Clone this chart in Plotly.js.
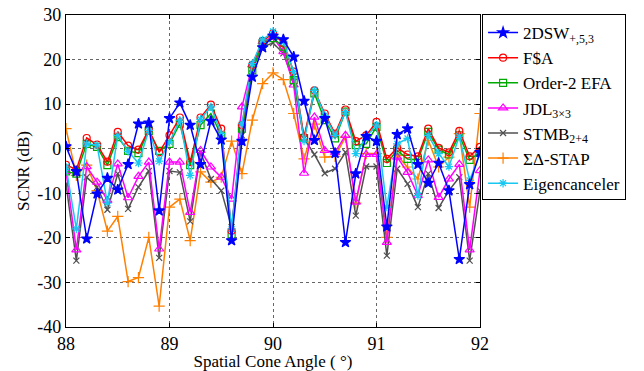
<!DOCTYPE html>
<html>
<head>
<meta charset="utf-8">
<script src="https://cdn.plot.ly/plotly-3.0.1.min.js"></script>
<style>
  html, body { margin: 0; padding: 0; background: #fff; }
  #chart { width: 644px; height: 371px; }
</style>
</head>
<body>
<div id="chart"></div>
<script>
// Spatial cone angle samples (degrees), 88 to 92 in 0.1 steps
const angles = [88.0, 88.1, 88.2, 88.3, 88.4, 88.5, 88.6, 88.7, 88.8, 88.9,
                89.0, 89.1, 89.2, 89.3, 89.4, 89.5, 89.6, 89.7, 89.8, 89.9,
                90.0, 90.1, 90.2, 90.3, 90.4, 90.5, 90.6, 90.7, 90.8, 90.9,
                91.0, 91.1, 91.2, 91.3, 91.4, 91.5, 91.6, 91.7, 91.8, 91.9, 92.0];

// SCNR (dB) for each processor
const scnr2DSW = [0.5, -5.1, -20.2, -10.1, -6.6, -9.2, -3.5, 5.6, 5.8, -13.9,
                  6.8, 10.3, 5.3, -3.5, 6.2, 2.0, -20.6, 1.7, 16.1, 22.7,
                  25.3, 24.5, 20.6, 10.7, 1.9, 6.8, -1.0, -21.0, -5.6, 2.8,
                  1.7, -17.5, 3.2, 4.5, -3.5, -7.7, -3.2, -9.4, -24.8, -8.0, -0.8];
const scnrFSA = [-3.6, -4.7, 2.4, 0.9, -2.9, 3.8, 0.7, -0.2, 4.3, -0.8,
                 3.0, 7.0, -3.0, 7.0, 9.9, 4.5, -18.4, 5.3, 18.8, 24.2,
                 25.9, 23.6, 17.3, 2.6, 13.1, 7.9, 3.4, 8.8, 1.7, 3.0,
                 6.0, -2.3, 0.2, -1.3, -1.7, 4.5, 0.2, -0.8, 4.0, -1.7, 0.4];
const scnrEFA = [-5.1, -5.6, 1.1, 0.4, -3.7, 2.6, -0.5, -1.0, 4.0, -0.5,
                 1.1, 5.6, -3.7, 5.3, 7.9, 3.0, -19.3, 4.5, 17.6, 23.6,
                 24.8, 22.9, 15.4, 2.4, 12.4, 6.4, 2.3, 8.3, 0.8, 1.1,
                 4.9, -3.2, -0.4, -2.3, -2.5, 3.8, -0.2, -1.3, 3.0, -2.5, -0.8];
const scnrJDL = [-5.1, -22.7, -4.0, -7.5, -11.6, -3.4, -11.0, -6.2, -3.0, -22.5,
                 -3.0, -3.0, -14.3, -0.4, -4.1, -6.4, -11.3, 9.4, 18.8, 24.0,
                 25.0, 21.8, 14.3, -5.5, 7.1, -0.4, -0.8, 3.0, -12.0, -1.3,
                 -1.3, -21.0, -1.9, -5.3, -10.5, -2.5, -10.9, -6.8, -3.5, -22.7, -4.9];
const scnrSTMB = [-7.9, -25.1, -6.4, -8.6, -13.7, -5.6, -13.5, -8.6, -5.0, -24.5,
                  -5.0, -5.3, -16.3, -0.8, -6.8, -9.4, -17.6, 3.0, 18.0, 22.9,
                  23.7, 21.4, 15.0, 2.3, -1.3, -5.5, -4.5, -0.8, -15.0, -4.0,
                  -4.0, -24.0, -4.5, -7.9, -13.1, -5.6, -13.3, -9.4, -6.4, -25.1, -9.4];
const scnrSigmaDelta = [4.5, -6.0, -3.7, -9.4, -18.5, -15.2, -29.8, -28.9, -19.9, -35.3,
                        -13.1, -11.3, -20.6, -5.2, -7.5, -6.4, 1.7, -5.6, 6.4, 14.6,
                        17.0, 15.5, 7.9, -2.3, 5.5, -1.9, -1.7, 2.6, -12.2, -1.1,
                        -1.1, -19.9, -1.5, -4.1, -6.8, 1.9, -4.1, -1.9, 3.4, -13.1, 7.9];
const scnrEigen = [-4.1, -18.0, 1.1, 0.8, -12.2, 3.0, -0.6, -3.2, 4.1, -2.8,
                   1.5, 6.4, -6.0, 6.6, 9.4, 3.4, -18.0, 5.6, 19.1, 24.4,
                   26.3, 24.0, 17.3, 1.7, 13.1, 7.5, 3.0, 8.3, -1.1, 2.6,
                   5.3, -13.1, 1.1, 2.3, -10.5, 3.0, -1.1, -4.0, 2.8, -7.1, -1.1];

const xTicks = [88, 89, 90, 91, 92];
const yTicks = [-40, -30, -20, -10, 0, 10, 20, 30];

const serif = "'Liberation Serif', 'Times New Roman', serif";

function series(name, y, color, symbol, rank, size) {
  return {
    type: "scatter", mode: "lines+markers", name: name,
    x: angles, y: y, legendrank: rank,
    line: { color: color, width: 1.5 },
    marker: { symbol: symbol, size: size || 7, color: color,
              line: { color: color, width: 1.2 } }
  };
}

// drawn bottom-to-top; legendrank keeps the legend order
const traces = [
  series("ΣΔ-STAP", scnrSigmaDelta, "#ff8000", "cross-thin-open", 6, 8),
  series("STMB<sub>2+4</sub>", scnrSTMB, "#505050", "x-thin-open", 5, 6),
  series("JDL<sub>3×3</sub>", scnrJDL, "#ff00ff", "triangle-up-open", 4, 8),
  series("Order-2 EFA", scnrEFA, "#00aa00", "square-open", 3, 7),
  series("F$A", scnrFSA, "#ff0000", "circle-open", 2, 7),
  series("Eigencanceler", scnrEigen, "#19c8f0", "asterisk-open", 7, 7),
  series("2DSW<sub>+,5,3</sub>", scnr2DSW, "#0000ff", "star", 1, 8)
];

const axisBase = {
  showline: true, linecolor: "#000", linewidth: 1.2, mirror: "ticks",
  ticks: "inside", ticklen: 4, tickcolor: "#000",
  showgrid: true, gridcolor: "#666", griddash: "dot", gridwidth: 1,
  zeroline: false,
  tickfont: { family: serif, size: 18, color: "#000" }
};

const layout = {
  width: 644, height: 371,
  margin: { l: 66, r: 164, t: 15, b: 44 },
  paper_bgcolor: "#fff", plot_bgcolor: "#fff",
  showlegend: true,
  xaxis: Object.assign({}, axisBase, {
    range: [88, 92], tickvals: xTicks, ticktext: xTicks.map(String),
    title: { text: "Spatial Cone Angle ( °)", standoff: 0,
             font: { family: serif, size: 17, color: "#000" } }
  }),
  yaxis: Object.assign({}, axisBase, {
    range: [-40, 30], tickvals: yTicks, ticktext: yTicks.map(String),
    title: { text: "SCNR (dB)", standoff: 3,
             font: { family: serif, size: 17, color: "#000" } }
  }),
  legend: {
    x: 1.005, y: 1.003, xanchor: "left", yanchor: "top",
    bgcolor: "#fff", bordercolor: "#000", borderwidth: 1,
    font: { family: serif, size: 17, color: "#000" },
    tracegroupgap: 0, itemwidth: 30
  }
};

Plotly.newPlot("chart", traces, layout, { displayModeBar: false, staticPlot: true });
</script>
</body>
</html>
